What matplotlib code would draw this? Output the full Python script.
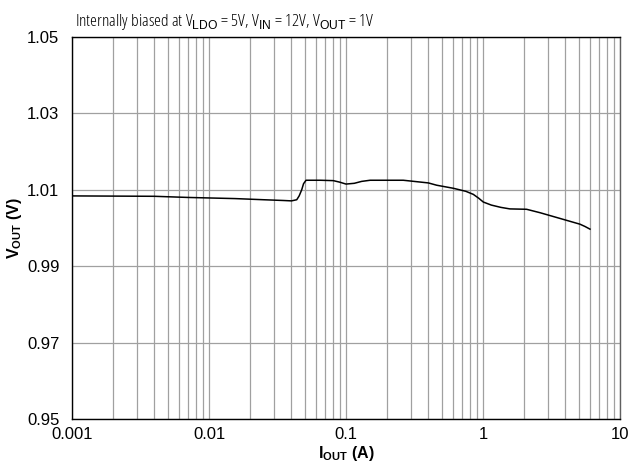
import matplotlib
matplotlib.use("Agg")
import matplotlib.pyplot as plt
from matplotlib.ticker import FixedLocator, NullFormatter, LogLocator

plt.rcParams['font.family'] = ['Liberation Sans', 'DejaVu Sans']
plt.rcParams['mathtext.fontset'] = 'custom'
plt.rcParams['mathtext.rm'] = 'Liberation Sans'
plt.rcParams['mathtext.bf'] = 'Liberation Sans:bold'

# Output current (A) and output voltage (V)
i_out = [0.001, 0.004, 0.007, 0.0155, 0.025, 0.035, 0.040, 0.0437, 0.0455, 0.0475,
         0.049, 0.0511, 0.065, 0.0808, 0.09, 0.1, 0.115, 0.13, 0.15, 0.262,
         0.399, 0.459, 0.607, 0.75, 0.85, 0.93, 1.005, 1.15, 1.35, 1.57,
         2.08, 2.61, 3.65, 5.1, 5.55, 6.04]
v_out = [1.0084, 1.0083, 1.0080, 1.0077, 1.0074, 1.0072, 1.0071, 1.0074, 1.0084, 1.0100,
         1.0116, 1.0125, 1.0125, 1.0124, 1.0120, 1.0115, 1.0117, 1.0122, 1.0125, 1.0125,
         1.0118, 1.0112, 1.0104, 1.0096, 1.0088, 1.0078, 1.0068, 1.0060, 1.0054, 1.0050,
         1.0049, 1.0040, 1.0025, 1.0010, 1.0004, 0.9997]

y_ticks = [0.95, 0.97, 0.99, 1.01, 1.03, 1.05]
x_ticks = [0.001, 0.01, 0.1, 1, 10]
x_labels = ["0.001", "0.01", "0.1", "1", "10"]

fig = plt.figure(figsize=(6.29, 4.65), dpi=100)
ax = fig.add_axes([72 / 629, 1 - 419 / 465, 548 / 629, 382 / 465])

ax.plot(i_out, v_out, color="black", linewidth=1.1)

ax.set_xscale("log")
ax.set_xlim(0.001, 10)
ax.set_ylim(0.95, 1.05)
ax.xaxis.set_major_locator(FixedLocator(x_ticks))
ax.set_xticklabels(x_labels)
ax.xaxis.set_minor_locator(LogLocator(base=10, subs=range(2, 10)))
ax.xaxis.set_minor_formatter(NullFormatter())
ax.set_yticks(y_ticks)
ax.set_yticklabels([f"{v:.2f}" for v in y_ticks])

ax.grid(True, which="both", axis="x", color="#a0a0a0", linewidth=0.9)
ax.grid(True, which="major", axis="y", color="#a0a0a0", linewidth=0.9)
ax.tick_params(which="both", length=0, labelsize=12)
ax.tick_params(axis="x", pad=6)
ax.tick_params(axis="y", pad=9)
for s in ax.spines.values():
    s.set_color("black")
    s.set_linewidth(1.0)
ax.spines["right"].set_color("#606060")

ax.set_xlabel(r"$\mathbf{I_{OUT}}$ (A)", fontsize=11.5, fontweight="bold", labelpad=1)
ax.set_ylabel(r"$\mathbf{V_{OUT}}$ (V)", fontsize=11.5, fontweight="bold", labelpad=2)

fig.text(75 / 629, 1 - 26 / 465,
         r"Internally biased at V$_{\mathrm{LDO}}$ = 5V, V$_{\mathrm{IN}}$ = 12V, V$_{\mathrm{OUT}}$ = 1V",
         fontsize=12.5, ha="left", va="baseline", family=['Open Sans', 'DejaVu Sans'],
         fontstretch="condensed")

fig.savefig("out.png", dpi=100)
